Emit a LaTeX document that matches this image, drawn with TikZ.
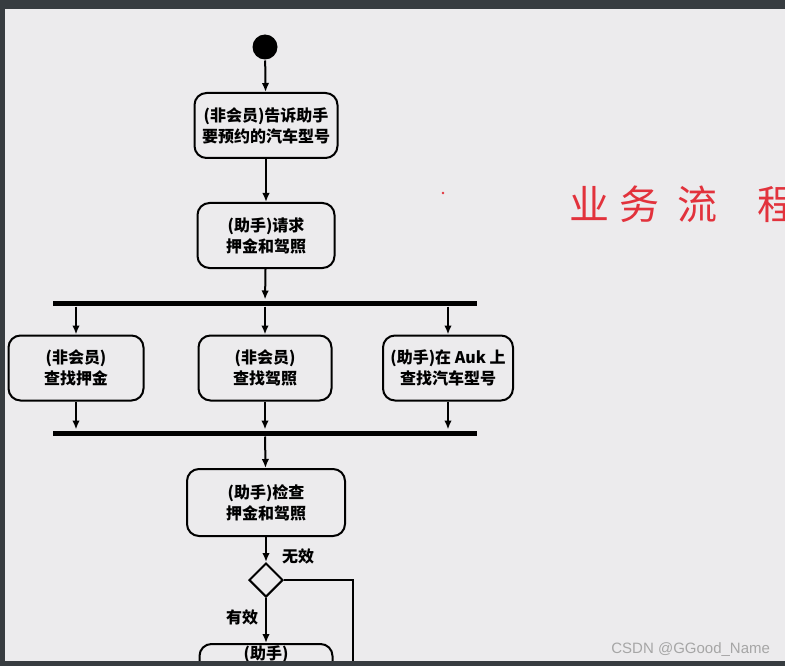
\documentclass[tikz,border=0pt]{standalone}
\usepackage{fontspec}
\usepackage{tikz}
\usetikzlibrary{arrows.meta,shapes.geometric}
\newfontfamily\cjk{Noto Sans CJK SC}
\setsansfont{Liberation Sans}
\definecolor{framegray}{HTML}{373C40}
\definecolor{pagegray}{HTML}{ECEBED}
\definecolor{inkred}{HTML}{E2323C}

\begin{document}
\begin{tikzpicture}[
				x=1pt, y=-1pt,
				act style/.style={
					draw,
					line width=2pt,
					rounded corners=12pt,
					align=center,
					inner sep=0pt,
					minimum width=132pt,
					minimum height=65pt,
					font=\cjk\bfseries\fontsize{16}{21}\selectfont
				},
				bar style/.style={
					fill=black,
					inner sep=0pt,
					minimum width=424pt,
					minimum height=5pt
				},
				guard style/.style={
					font=\cjk\bfseries\fontsize{16}{20}\selectfont
				},
				>={Latex[length=9pt,width=7.5pt]},
				line width=2pt
				]
				
				\useasboundingbox (0,0) rectangle (785,666);
				\fill[framegray] (0,0) rectangle (785,666);
				\fill[pagegray] (5,9) rectangle (785,661);
				
				\node[circle, fill=black, inner sep=0pt, minimum size=25pt] (start) at (265,47) {};
				
				\node[act style, minimum width=143pt] (tell) at (266,125.5) 
				{(非会员)告诉助手\\要预约的汽车型号};
				
				\node[act style, minimum width=137pt] (ask) at (266,235.5) 
				{(助手)请求\\押金和驾照};
				
				\node[bar style] (fork) at (265,303) {};
				
				\node[act style, minimum width=135pt] (deposit) at (76,368) 
				{(非会员)\\查找押金};
				
				\node[act style, minimum width=133pt] (licence) at (265,368) 
				{(非会员)\\查找驾照};
				
				\node[act style, minimum width=130pt] (model) at (448,368) 
				{(助手)在 Auk 上\\查找汽车型号};
				
				\node[bar style] (join) at (265,433) {};
				
				\node[act style, minimum width=158pt, minimum height=67pt] (check) at (266,502.5) 
				{(助手)检查\\押金和驾照};
				
				\node[draw, diamond, aspect=1, inner sep=0pt, minimum width=34pt, minimum height=34pt] (valid) at (266,580) {};
				
				\node[act style, minimum width=133pt, anchor=north] (next) at (266,643) 
				{(助手)\\\strut\\\strut};
				
				\node[guard style] (bad) at (298,556) {无效};
				\node[guard style] (good) at (242,617) {有效};
				
				\coordinate (loopend) at (353,666);
				
				\draw[->] (start) -- (tell);
				\draw[->] (tell) -- (ask);
				\draw[->] (ask) -- (fork);
				\draw[->] (fork.south -| deposit) -- (deposit);
				\draw[->] (fork.south -| licence) -- (licence);
				\draw[->] (fork.south -| model) -- (model);
				\draw[->] (deposit) -- (deposit |- join.north);
				\draw[->] (licence) -- (licence |- join.north);
				\draw[->] (model) -- (model |- join.north);
				\draw[->] (join) -- (check);
				\draw[->] (check) -- (valid);
				\draw[->] (valid) -- (next);
				\draw (valid.east) -| (loopend);
				
				\node[text=inkred, anchor=west, inner sep=0pt, font=\cjk\fontsize{40}{40}\selectfont] (hand) at (568,204) 
				{业\hspace{10pt}务\hspace{18pt}流\hspace{40pt}程};
				\fill[inkred] (443,193) circle (1.3);
				
				\fill[framegray] (0,661) rectangle (785,666);
				
				\node[text=gray!70, anchor=east, inner sep=0pt, font=\sffamily\fontsize{15}{15}\selectfont] (mark) at (771,650) 
				{CSDN @GGood\_Name};
				
			\end{tikzpicture}
\end{document}
